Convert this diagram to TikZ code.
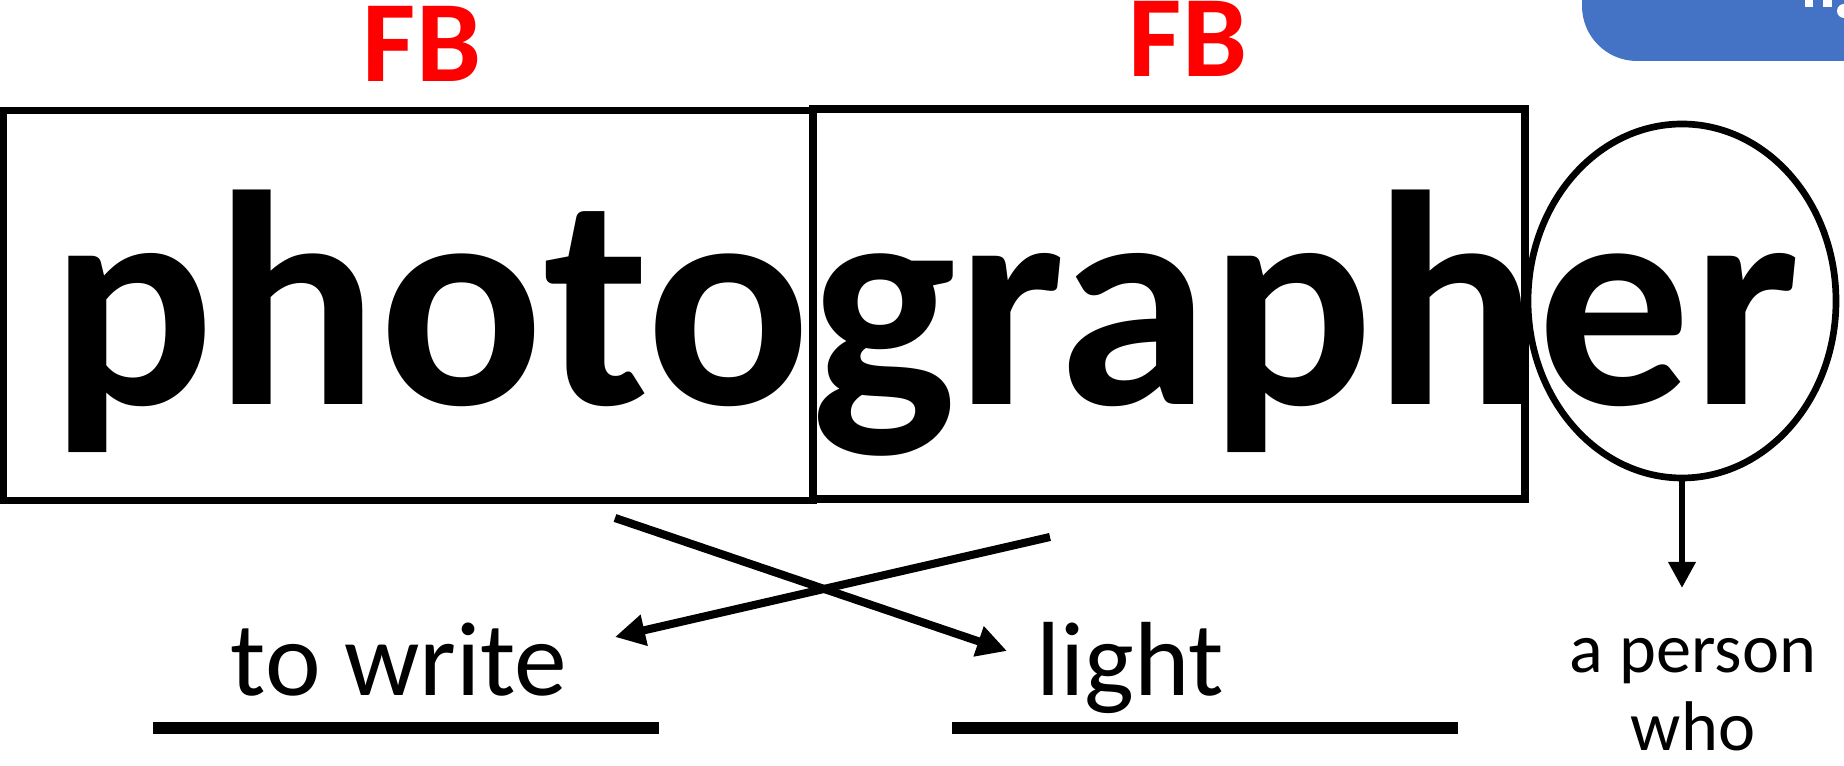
\documentclass[tikz,border=0pt]{standalone}
\usepackage{fontspec}
\setmainfont{Carlito}
\usepackage{xcolor}
\usetikzlibrary{arrows.meta,shapes.geometric}
\definecolor{officeblue}{HTML}{4472C4}

\begin{document}
\begin{tikzpicture}[
  wordbox/.style={draw, line width=2.2pt, inner sep=0pt},
  fbmark/.style={text=red, font=\fontsize{33}{33}\selectfont\bfseries, inner sep=0pt, anchor=base},
  gloss/.style={font=\fontsize{30}{34}\selectfont, inner sep=0pt, anchor=base},
  pointer/.style={line width=2.3pt, -{Triangle[length=3mm,width=3mm]}}
]
\useasboundingbox (0,0) rectangle (18.44,-7.66);

\fill[officeblue, rounded corners=0.55cm] (15.82,1) rectangle (19.5,-0.61);
\fill[white] (18.05,0) rectangle (18.13,-0.07);
\fill[white] (18.23,0) rectangle (18.32,-0.07);
\fill[white] (18.44,-0.11) circle (0.07);

\node[wordbox, minimum width=8.095cm, minimum height=3.9cm] (photo) at (4.08,-3.055) {};
\node[wordbox, minimum width=7.12cm, minimum height=3.9cm] (graph) at (11.69,-3.04) {};
\node[draw, ellipse, line width=1.9pt, minimum width=3.08cm, minimum height=3.54cm, inner sep=0pt] (suffix) at (16.82,-3.01) {};

\node[anchor=base west, inner sep=0pt, font=\fontsize{87}{87}\selectfont\bfseries] (word) at (0.50,-4.05) {photographer};

\node[fbmark] (fbleft) at (4.22,-0.82) {FB};
\node[fbmark] (fbright) at (11.88,-0.77) {FB};

\coordinate (photofoot) at (6.15,-5.18);
\coordinate (graphfoot) at (10.50,-5.37);
\coordinate (lighttip) at (10.07,-6.51);
\coordinate (writetip) at (6.15,-6.37);
\draw[pointer] (photofoot) -- (lighttip);
\draw[pointer] (graphfoot) -- (writetip);

\node[gloss] (write) at (3.99,-6.96) {to write};
\node[gloss] (light) at (11.30,-6.96) {light};
\draw[line width=3.4pt] (1.53,-7.28) -- (6.59,-7.28);
\draw[line width=3.4pt] (9.52,-7.28) -- (14.58,-7.28);

\coordinate (persontip) at (16.82,-5.88);
\draw[line width=1.9pt, -{Triangle[length=2.6mm,width=2.6mm]}] (suffix.south) -- (persontip);
\node[align=center, font=\fontsize{20}{22}\selectfont, inner sep=0pt, anchor=north] (person) at (16.93,-6.38) {a person\\who};

\end{tikzpicture}
\end{document}
